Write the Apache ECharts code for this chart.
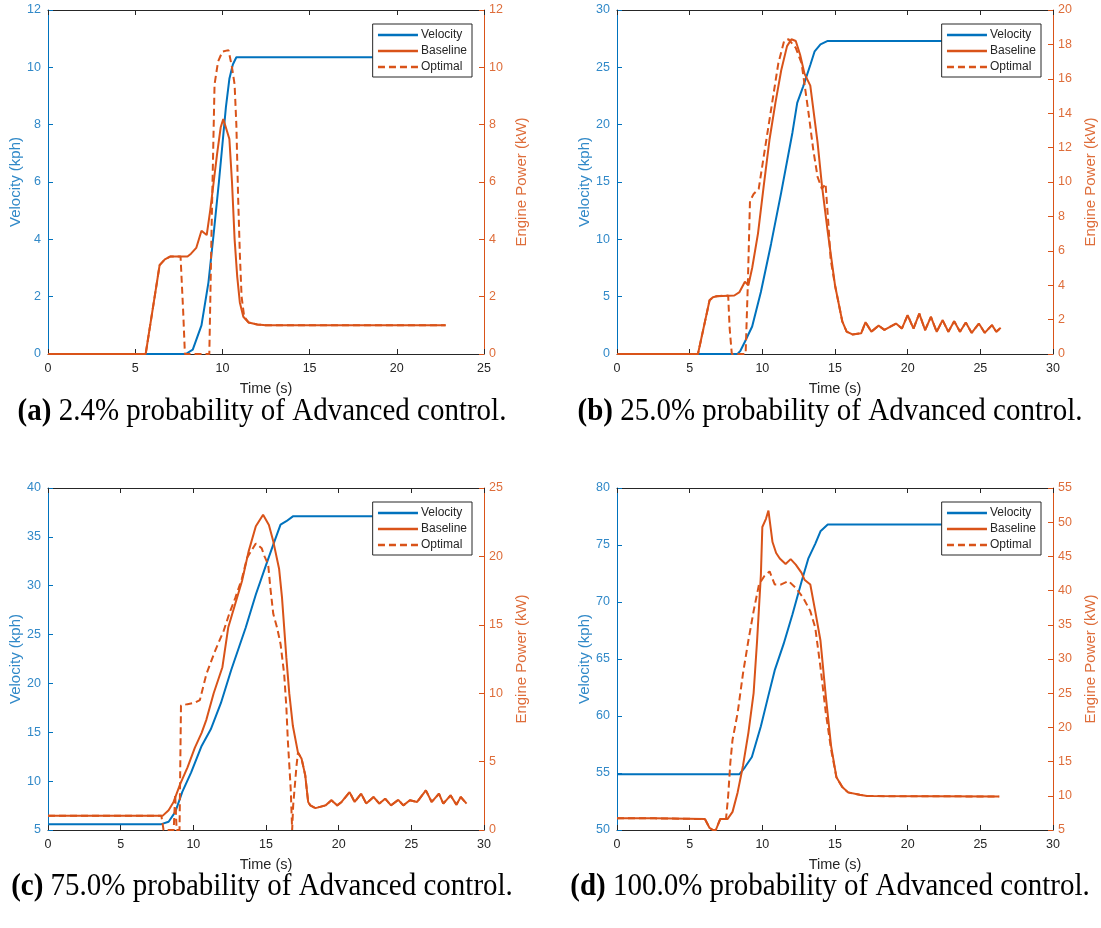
<!DOCTYPE html>
<html>
<head>
<meta charset="utf-8">
<script src="https://cdn.jsdelivr.net/npm/echarts@6/dist/echarts.min.js"></script>
<style>
html,body{margin:0;padding:0;background:#fff;}
#chart{width:1101px;height:928px;}
</style>
</head>
<body>
<div id="chart"></div>
<script>
// ---------------- DATA ----------------
const captions = [
  ['(a)', ' 2.4% probability of Advanced control.'],
  ['(b)', ' 25.0% probability of Advanced control.'],
  ['(c)', ' 75.0% probability of Advanced control.'],
  ['(d)', ' 100.0% probability of Advanced control.']
];
const seriesNames = ['Velocity', 'Baseline', 'Optimal'];
const xAxisName = 'Time (s)';
const leftAxisName = 'Velocity (kph)';
const rightAxisName = 'Engine Power (kW)';

// axis ranges [min, max, interval]
const xRanges = [[0, 25, 5], [0, 30, 5], [0, 30, 5], [0, 30, 5]];
const leftRanges = [[0, 12, 2], [0, 30, 5], [5, 40, 5], [50, 80, 5]];
const rightRanges = [[0, 12, 2], [0, 20, 2], [0, 25, 5], [5, 55, 5]];

// Panel (a): [time s, value]
const velA = [[0,0],[7.9,0],[8.3,0.15],[8.8,1.0],[9.2,2.5],[9.5,4.2],[9.8,6.0],[10.0,7.3],[10.2,8.6],[10.4,9.6],[10.6,10.1],[10.8,10.35],[22.8,10.35]];
const baseA = [[0,0],[5.6,0],[6.4,3.1],[6.7,3.3],[7.0,3.4],[8.0,3.4],[8.2,3.5],[8.5,3.7],[8.8,4.3],[9.1,4.15],[9.3,5.0],[9.5,6.0],[9.7,7.0],[9.9,7.9],[10.05,8.2],[10.2,7.9],[10.4,7.5],[10.55,6.0],[10.7,4.0],[10.85,2.7],[11.0,1.8],[11.2,1.3],[11.5,1.1],[12.0,1.03],[12.5,1.0],[22.8,1.0]];
const optA = [[0,0],[5.6,0],[6.4,3.1],[6.7,3.3],[7.0,3.4],[7.6,3.4],[7.75,1.5],[7.85,0],[9.25,0],[9.4,5.0],[9.55,9.4],[9.75,10.2],[10.0,10.55],[10.35,10.6],[10.55,10.0],[10.7,9.4],[10.8,8.0],[10.9,5.5],[11.0,3.5],[11.1,2.0],[11.25,1.3],[11.5,1.1],[12.0,1.03],[12.5,1.0],[22.8,1.0]];

// Panel (b)
const velB = [[0,0],[8.3,0],[8.5,0.3],[8.8,1.07],[9.3,2.4],[9.9,5.4],[10.6,9.6],[11.3,14.1],[12.07,19.3],[12.4,21.9],[12.8,23.3],[13.3,25.2],[13.6,26.4],[14.0,27.0],[14.5,27.3],[26.4,27.3]];
const baseB = [[0,0],[5.57,0],[6.37,3.12],[6.6,3.3],[6.86,3.36],[8.07,3.4],[8.43,3.6],[8.8,4.2],[9.04,4.0],[9.3,5.0],[9.7,7.0],[10.1,9.8],[10.5,12.5],[10.9,14.6],[11.3,16.5],[11.7,17.9],[12.0,18.3],[12.3,18.2],[12.6,17.4],[12.9,16.3],[13.3,15.6],[13.8,12.3],[14.1,9.8],[14.5,7.1],[15.0,4.0],[15.5,1.9],[15.8,1.3],[16.2,1.14],[16.8,1.2],[17.1,1.85],[17.5,1.3],[18.0,1.65],[18.4,1.4],[19.2,1.77],[19.6,1.48],[20.0,2.26],[20.4,1.48],[20.8,2.35],[21.2,1.39],[21.6,2.16],[22.0,1.29],[22.4,1.97],[22.8,1.29],[23.2,1.91],[23.6,1.29],[24.0,1.83],[24.4,1.23],[24.9,1.77],[25.3,1.23],[25.8,1.68],[26.1,1.29],[26.4,1.52]];
const optB = [[0,0],[5.57,0],[6.37,3.12],[6.6,3.3],[6.86,3.36],[7.65,3.4],[7.75,1.5],[7.9,0],[8.85,0],[9.0,4.0],[9.15,8.9],[9.4,9.3],[9.75,9.6],[10.1,11.5],[10.6,14.2],[11.1,16.9],[11.5,18.2],[11.8,18.3],[12.3,17.8],[12.7,16.9],[13.15,14.2],[13.5,11.9],[13.8,10.3],[14.1,9.6],[14.35,9.9],[14.55,7.5],[14.7,5.5],[15.0,4.0],[15.5,1.9],[15.8,1.3],[16.2,1.14],[16.8,1.2],[17.1,1.85],[17.5,1.3],[18.0,1.65],[18.4,1.4],[19.2,1.77],[19.6,1.48],[20.0,2.26],[20.4,1.48],[20.8,2.35],[21.2,1.39],[21.6,2.16],[22.0,1.29],[22.4,1.97],[22.8,1.29],[23.2,1.91],[23.6,1.29],[24.0,1.83],[24.4,1.23],[24.9,1.77],[25.3,1.23],[25.8,1.68],[26.1,1.29],[26.4,1.52]];

// Panel (c)
const velC = [[0,5.6],[7.8,5.6],[8.3,5.84],[8.76,6.85],[9.24,8.9],[9.85,10.9],[10.57,13.6],[11.2,15.3],[11.9,18.0],[12.6,21.35],[13.6,25.7],[14.3,29.1],[15.0,32.1],[15.5,34.2],[16.0,36.25],[16.4,36.6],[16.85,37.1],[28.8,37.1]];
const baseC = [[0,1.05],[7.9,1.05],[8.3,1.45],[8.64,2.05],[9.1,3.37],[9.6,4.58],[10.1,6.0],[10.57,7.1],[10.9,8.07],[11.4,10.0],[12.0,11.9],[12.4,14.8],[12.9,16.6],[13.35,18.2],[13.8,20.35],[14.3,22.2],[14.8,23.05],[15.2,22.3],[15.5,21.1],[15.9,19.1],[16.1,17.0],[16.4,12.6],[16.6,10.0],[16.85,7.6],[17.2,5.66],[17.45,5.2],[17.7,4.0],[17.9,2.05],[18.05,1.8],[18.4,1.6],[19.1,1.8],[19.5,2.17],[19.9,1.8],[20.2,2.05],[20.75,2.77],[21.1,2.05],[21.55,2.65],[21.9,1.93],[22.4,2.41],[22.8,1.93],[23.2,2.29],[23.6,1.8],[24.1,2.2],[24.45,1.8],[24.9,2.17],[25.4,2.05],[26.0,2.9],[26.4,2.05],[26.9,2.65],[27.2,1.93],[27.7,2.53],[28.1,1.85],[28.4,2.41],[28.8,1.93]];
const optC = [[0,1.05],[7.8,1.05],[7.95,0],[8.65,0],[8.75,2.6],[8.85,0],[9.05,0],[9.15,9.1],[9.6,9.2],[10.1,9.3],[10.45,9.5],[10.9,11.4],[11.5,13.1],[12.1,14.6],[12.5,15.9],[12.9,17.0],[13.35,18.4],[13.7,19.9],[14.3,20.95],[14.7,20.6],[14.9,20.0],[15.15,19.4],[15.3,17.7],[15.5,15.8],[15.76,14.8],[16.0,13.6],[16.25,11.4],[16.4,9.0],[16.5,6.6],[16.7,3.0],[16.8,0],[16.87,1.8],[17.1,4.7],[17.2,5.66],[17.45,5.2],[17.7,4.0],[17.9,2.05],[18.05,1.8],[18.4,1.6],[19.1,1.8],[19.5,2.17],[19.9,1.8],[20.2,2.05],[20.75,2.77],[21.1,2.05],[21.55,2.65],[21.9,1.93],[22.4,2.41],[22.8,1.93],[23.2,2.29],[23.6,1.8],[24.1,2.2],[24.45,1.8],[24.9,2.17],[25.4,2.05],[26.0,2.9],[26.4,2.05],[26.9,2.65],[27.2,1.93],[27.7,2.53],[28.1,1.85],[28.4,2.41],[28.8,1.93]];

// Panel (d)
const velD = [[0,54.9],[8.43,54.9],[8.8,55.5],[9.28,56.4],[9.9,59.1],[10.4,61.7],[10.85,64.0],[11.46,66.3],[12.07,68.9],[12.7,71.8],[13.16,73.8],[13.64,75.1],[14.0,76.2],[14.5,76.8],[26.3,76.8]];
const baseD = [[0,6.7],[2.6,6.7],[2.7,6.6],[6.05,6.6],[6.37,5.3],[6.6,5.0],[6.8,5.0],[7.1,6.6],[7.6,6.6],[7.95,7.65],[8.3,10.5],[8.67,14.4],[9.04,19.2],[9.4,25.0],[9.64,32.7],[9.9,42.3],[10.0,49.3],[10.25,50.5],[10.42,51.7],[10.7,47.1],[10.95,45.5],[11.2,44.7],[11.6,43.9],[11.95,44.6],[12.3,43.8],[12.7,42.6],[12.9,41.6],[13.3,40.9],[13.64,37.0],[14.0,32.7],[14.37,24.5],[14.73,17.3],[15.1,12.7],[15.5,11.3],[15.9,10.5],[16.7,10.15],[17.2,9.96],[26.3,9.9]];
const optD = [[0,6.7],[2.6,6.7],[2.7,6.6],[6.05,6.6],[6.37,5.3],[6.6,5.0],[6.8,5.0],[7.1,6.6],[7.5,6.6],[7.65,10.0],[7.8,14.9],[7.95,18.2],[8.3,22.1],[8.67,27.9],[9.04,32.7],[9.4,37.0],[9.77,40.9],[10.13,42.1],[10.5,42.8],[10.85,40.9],[11.3,40.9],[11.8,41.4],[12.3,40.4],[12.8,39.0],[13.3,37.0],[13.64,34.6],[14.0,28.8],[14.37,22.1],[14.73,16.8],[15.1,12.7],[15.5,11.3],[15.9,10.5],[16.7,10.15],[17.2,9.96],[26.3,9.9]];

const panelData = [[velA, baseA, optA], [velB, baseB, optB], [velC, baseC, optC], [velD, baseD, optD]];

// ---------------- STYLE / LAYOUT ----------------
const BLUE = '#0072BD', ORANGE = '#D95319';
const BLUE_TXT = '#3189c8', ORANGE_TXT = '#de6d3a';
const DARK = '#262626';
const FONT = '"Liberation Sans", Arial, Helvetica, sans-serif';
const SERIF = '"Liberation Serif", "Times New Roman", serif';
const gridBoxes = [
  {left: 48, top: 10, width: 436, height: 344},
  {left: 617, top: 10, width: 436, height: 344},
  {left: 48, top: 488, width: 436, height: 342},
  {left: 617, top: 488, width: 436, height: 342}
];
const captionPos = [[262, 412], [830, 412], [262, 887], [830, 887]];

const option = {
  animation: false,
  backgroundColor: '#fff',
  textStyle: {fontFamily: FONT},
  grid: gridBoxes.map(g => Object.assign({containLabel: false}, g)),
  xAxis: [], yAxis: [], series: [], legend: [], graphic: []
};

gridBoxes.forEach((g, i) => {
  const [xmin, xmax, xint] = xRanges[i];
  option.xAxis.push({
    type: 'value', gridIndex: i, position: 'bottom', min: xmin, max: xmax, interval: xint,
    name: xAxisName, nameLocation: 'middle', nameGap: 27,
    nameTextStyle: {color: DARK, fontSize: 14.5, fontFamily: FONT},
    axisLine: {show: true, onZero: false, lineStyle: {color: DARK, width: 1}},
    axisTick: {show: true, inside: true, length: 5, lineStyle: {color: DARK}},
    axisLabel: {color: DARK, fontSize: 12.5, margin: 8, fontFamily: FONT},
    splitLine: {show: false}
  });
  option.xAxis.push({
    type: 'value', gridIndex: i, position: 'top', min: xmin, max: xmax, interval: xint,
    axisLine: {show: true, onZero: false, lineStyle: {color: DARK, width: 1}},
    axisTick: {show: true, inside: true, length: 5, lineStyle: {color: DARK}},
    axisLabel: {show: false}, splitLine: {show: false}
  });
  const [lmin, lmax, lint] = leftRanges[i];
  const [rmin, rmax, rint] = rightRanges[i];
  option.yAxis.push({
    type: 'value', gridIndex: i, position: 'left', min: lmin, max: lmax, interval: lint,
    name: leftAxisName, nameLocation: 'middle', nameGap: 25,
    nameTextStyle: {color: BLUE_TXT, fontSize: 15, fontFamily: FONT},
    axisLine: {show: true, onZero: false, lineStyle: {color: BLUE, width: 1}},
    axisTick: {show: true, inside: true, length: 5, lineStyle: {color: BLUE}},
    axisLabel: {color: BLUE_TXT, fontSize: 12.5, margin: 7, fontFamily: FONT},
    splitLine: {show: false}
  });
  option.yAxis.push({
    type: 'value', gridIndex: i, position: 'right', min: rmin, max: rmax, interval: rint,
    name: rightAxisName, nameLocation: 'middle', nameGap: 30, nameRotate: 90,
    nameTextStyle: {color: ORANGE_TXT, fontSize: 15, fontFamily: FONT},
    axisLine: {show: true, onZero: false, lineStyle: {color: ORANGE, width: 1}},
    axisTick: {show: true, inside: true, length: 5, lineStyle: {color: ORANGE}},
    axisLabel: {color: ORANGE_TXT, fontSize: 12.5, margin: 5, fontFamily: FONT},
    splitLine: {show: false}
  });

  const [vel, base, opt] = panelData[i];
  const common = {type: 'line', xAxisIndex: 2 * i, symbol: 'none', showSymbol: false, clip: false, animation: false, silent: true};
  option.series.push(Object.assign({}, common, {
    name: seriesNames[0], yAxisIndex: 2 * i, data: vel, z: 2,
    color: BLUE, lineStyle: {color: BLUE, width: 2}
  }));
  option.series.push(Object.assign({}, common, {
    name: seriesNames[1], yAxisIndex: 2 * i + 1, data: base, z: 3,
    color: ORANGE, lineStyle: {color: ORANGE, width: 2}
  }));
  option.series.push(Object.assign({}, common, {
    name: seriesNames[2], yAxisIndex: 2 * i + 1, data: opt, z: 4,
    color: ORANGE, lineStyle: {color: ORANGE, width: 2, type: [7, 4]}
  }));

  option.legend.push({
    data: seriesNames,
    orient: 'vertical',
    right: 1101 - (g.left + g.width - 12),
    top: g.top + 14,
    backgroundColor: '#fff',
    borderColor: DARK, borderWidth: 1, borderRadius: 0,
    padding: [5, 5, 4, 4],
    itemWidth: 40, itemHeight: 13, itemGap: 4,
    selectedMode: false,
    itemStyle: {color: 'rgba(0,0,0,0)', borderColor: 'rgba(0,0,0,0)', borderWidth: 0, opacity: 0},
    lineStyle: {width: 2.6},
    textStyle: {color: DARK, fontSize: 12, fontFamily: FONT, padding: [0, 0, 0, -2]},
    z: 10
  });

  const [cx, cy] = captionPos[i];
  option.graphic.push({
    type: 'text', x: cx, y: cy, scaleY: 1.06,
    style: {
      text: '{b|' + captions[i][0] + '}{n|' + captions[i][1] + '}',
      align: 'center', verticalAlign: 'middle',
      fill: '#000',
      rich: {
        b: {fontFamily: SERIF, fontWeight: 'bold', fontSize: 29, fill: '#000'},
        n: {fontFamily: SERIF, fontSize: 29, fill: '#000'}
      }
    }
  });
});

const chart = echarts.init(document.getElementById('chart'), null, {renderer: 'canvas'});
chart.setOption(option);
</script>
</body>
</html>
